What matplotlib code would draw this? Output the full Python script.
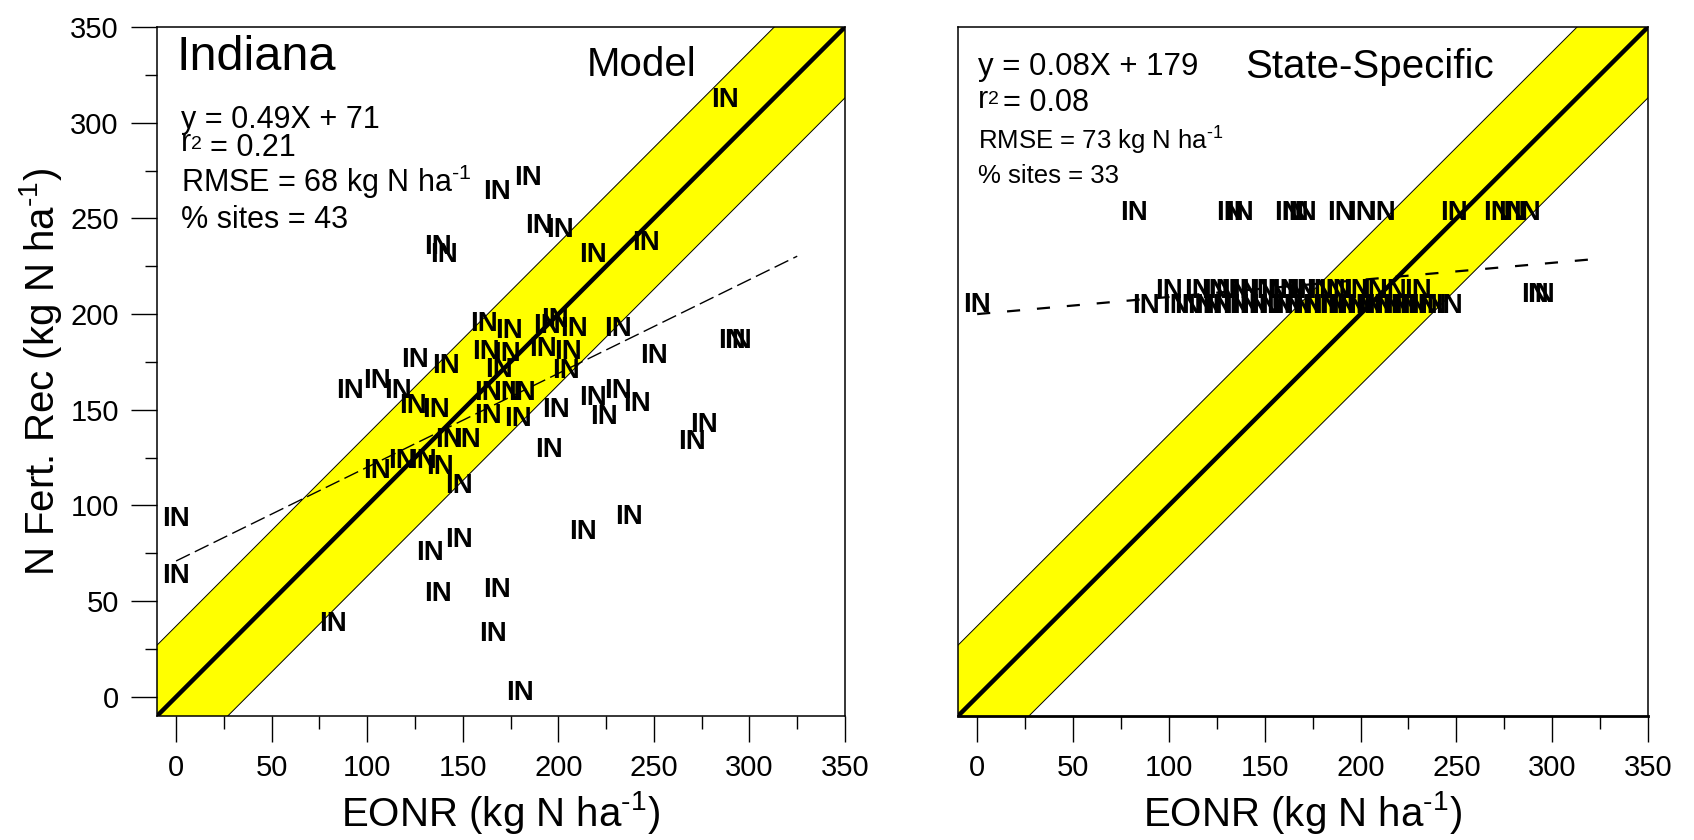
import matplotlib
matplotlib.use('Agg')
import matplotlib.pyplot as plt
import numpy as np

plt.rcParams['font.family'] = ['Liberation Sans', 'DejaVu Sans']
plt.rcParams['mathtext.fontset'] = 'custom'
plt.rcParams['mathtext.rm'] = 'Liberation Sans'
plt.rcParams['mathtext.it'] = 'Liberation Sans:italic'
plt.rcParams['mathtext.bf'] = 'Liberation Sans:bold'

# ---------------- data ----------------
model_eonr = [287, 168, 184, 137, 140, 190, 201, 218, 246, 291, 294, 250, 231, 208,
              194, 198, 161, 174, 162, 173, 192, 205, 125, 141, 169, 204, 91, 105,
              116, 124, 136, 163, 173, 181, 218, 231, 241, 224, 199, 163, 179, 143,
              152, 195, 270, 276, 105, 118, 129, 138, 148, 0, 0, 82, 133, 148, 137,
              168, 166, 180, 213, 237]
model_nrec = [312, 264, 271, 235, 231, 246, 244, 231, 237, 186, 186, 178, 192, 192,
              194, 197, 195, 191, 180, 179, 182, 180, 176, 173, 171, 170, 160, 165,
              160, 152, 150, 159, 159, 159, 156, 160, 153, 146, 150, 147, 145, 134,
              134, 129, 133, 142, 118, 123, 123, 120, 110, 93, 63, 38, 75, 82, 54,
              56, 33, 2, 86, 94]

state_eonr = [82, 132, 137, 162, 166, 170, 190, 201, 211, 249, 271, 279, 287,
              100, 115, 124, 128, 135, 140, 149, 155, 161, 165, 170, 179, 185, 189,
              198, 207, 217, 230,
              88, 104, 110, 117, 121, 126, 135, 140, 145, 150, 158, 163, 168, 173,
              182, 186, 191, 196, 201, 205, 210, 215, 219, 224, 228, 233, 238, 246,
              0, 291, 294]
state_nrec = [253] * 13 + [212] * 18 + [204] * 28 + [205, 210, 210]

model_fit_slope = 0.49
model_fit_int = 71
model_fit_x = [0, 325]
state_fit_x = [0, 325]
state_fit_y = [200, 229]
band_half = 37
axis_lim = [-10, 350]
major_ticks = [0, 50, 100, 150, 200, 250, 300, 350]
minor_ticks = [25, 75, 125, 175, 225, 275, 325]

W, H = 1694, 840
fig = plt.figure(figsize=(W / 100, H / 100), dpi=100)

def fbox(x0, y0, x1, y1):
    return [x0 / W, 1 - y1 / H, (x1 - x0) / W, (y1 - y0) / H]

ax1 = fig.add_axes(fbox(157, 27, 845, 716))
ax2 = fig.add_axes(fbox(958, 27, 1648, 716))

def band(ax):
    xs = np.array([-60.0, 400.0])
    ax.fill_between(xs, xs - band_half, xs + band_half, color='#ffff00', lw=0, zorder=1)
    ax.plot(xs, xs - band_half, color='black', lw=0.7, zorder=2)
    ax.plot(xs, xs + band_half, color='black', lw=0.7, zorder=2)
    ax.plot(axis_lim, axis_lim, color='black', lw=3.2, zorder=3, solid_capstyle='butt')

band(ax1)
band(ax2)

mfx = np.array(model_fit_x, dtype=float)
ax1.plot(mfx, model_fit_slope * mfx + model_fit_int, color='black', lw=1.0,
         dashes=(11, 4), zorder=4)
ax2.plot(state_fit_x, state_fit_y, color='black', lw=1.6, dashes=(5.9, 7.6), zorder=4)

for ax, ex, ny in ((ax1, model_eonr, model_nrec), (ax2, state_eonr, state_nrec)):
    for xv, yv in zip(ex, ny):
        ax.text(xv, yv, 'IN', ha='center', va='center', fontsize=20,
                fontweight='bold', color='black', zorder=5)

for ax in (ax1, ax2):
    ax.set_xlim(axis_lim)
    ax.set_ylim(axis_lim)
    ax.set_xticks(major_ticks)
    ax.set_xticks(minor_ticks, minor=True)
    ax.set_yticks(major_ticks)
    ax.set_yticks(minor_ticks, minor=True)
    ax.tick_params(axis='both', which='major', direction='out', length=18.5,
                   width=1.0, labelsize=21, pad=9)
    ax.tick_params(axis='both', which='minor', direction='out', length=9,
                   width=1.0)
    for s in ax.spines.values():
        s.set_linewidth(1.1)
        s.set_color('black')

ax2.tick_params(axis='y', which='both', left=False, labelleft=False)
ax2.spines['bottom'].set_linewidth(2.0)

def ft(x, y, s, **kw):
    kw.setdefault('va', 'baseline')
    kw.setdefault('ha', 'left')
    fig.text(x / W, 1 - y / H, s, **kw)

SUP = r'$^{\text{-1}}$'

# left panel annotations
ft(176, 70, 'Indiana', fontsize=35)
ft(587, 76, 'Model', fontsize=29)
ft(181, 128, 'y = 0.49X + 71', fontsize=22)
ft(181, 151, 'r', fontsize=22)
ft(191, 149, '2', fontsize=14)
ft(210, 156, '= 0.21', fontsize=22)
ft(181, 192, 'RMSE = 68 kg N ha' + SUP, fontsize=22)
ft(181, 228, '% sites = 43', fontsize=22)

# right panel annotations
ft(978, 75, 'y = 0.08X + 179', fontsize=22.5)
ft(1245, 78, 'State-Specific', fontsize=29)
ft(978, 108, 'r', fontsize=22)
ft(988, 104, '2', fontsize=14)
ft(1003, 111, '= 0.08', fontsize=22)
ft(978, 150, 'RMSE = 73 kg N ha' + SUP, fontsize=18.5)
ft(978, 183, '% sites = 33', fontsize=18.5)

# axis labels
ft(41, 372, 'N Fert. Rec (kg N ha' + SUP + ')', fontsize=29, rotation=90,
   ha='center', va='center')
ft(501, 812, 'EONR (kg N ha' + SUP + ')', fontsize=29, ha='center', va='center')
ft(1303, 812, 'EONR (kg N ha' + SUP + ')', fontsize=29, ha='center', va='center')

fig.savefig('out.png', dpi=100)
